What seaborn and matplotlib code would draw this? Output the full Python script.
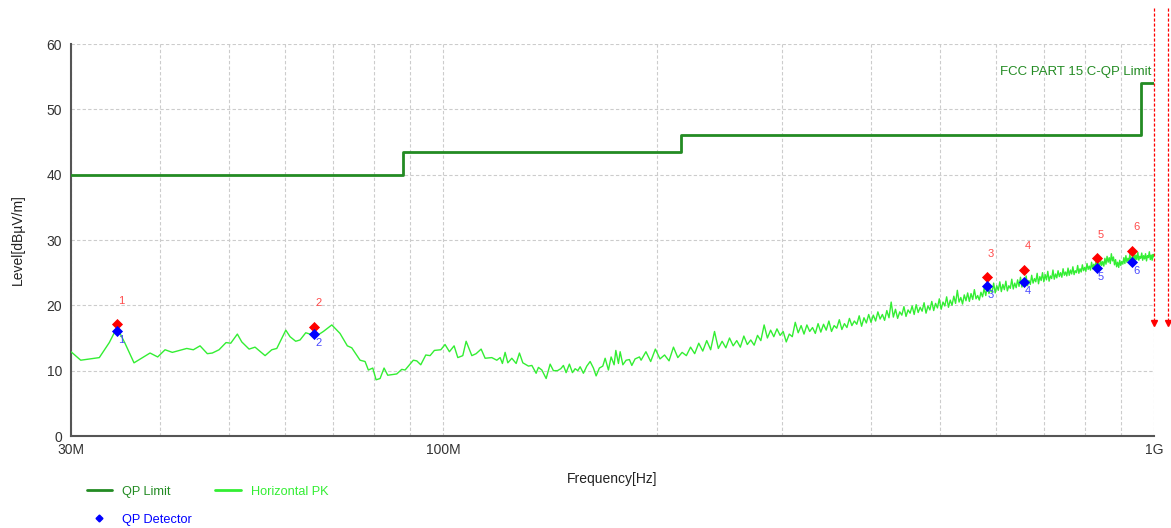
import numpy as np
import pandas as pd
import matplotlib
matplotlib.use("Agg")
import matplotlib.pyplot as plt
from matplotlib.lines import Line2D
from matplotlib.ticker import FixedLocator, NullFormatter, FixedFormatter
import seaborn as sns

# ---------------- data (frequency in MHz, level in dBuV/m) ----------------
limit_freq = [30, 88, 216, 960, 1000]
limit_level = [40.0, 43.5, 46.0, 54.0, 54.0]

pk_low_freq = [30.0, 30.96, 32.88, 33.96, 34.59, 35.16, 35.73, 36.79, 38.75, 39.72,
               40.68, 41.65, 43.64, 44.58, 45.56, 46.65, 47.41, 48.45, 49.56, 50.32,
               51.41, 52.15, 53.40, 54.44, 56.24, 57.47, 58.41, 60.14, 60.97, 62.10,
               62.98, 64.15, 65.04, 66.12, 66.82, 67.92, 69.80, 71.68, 73.40, 74.46,
               76.49, 77.74, 78.57, 79.70, 80.56, 81.61, 82.67, 83.66, 86.14, 87.54,
               88.49, 90.89, 91.90, 93.10, 94.63, 95.95, 97.30, 99.34, 100.72, 102.15,
               103.71, 104.96, 106.67, 107.83, 109.84, 111.37, 113.20, 114.67, 117.18, 119.09,
               120.38, 121.27, 122.34, 123.42, 125.02, 126.79, 128.14, 129.56, 131.94, 133.41,
               135.26, 136.27, 137.78, 139.72, 141.54, 143.05, 144.92, 146.50, 147.75, 149.05,
               150.64, 152.14, 153.47, 154.82, 155.97, 157.63, 159.38, 161.11, 162.83, 164.26,
               166.00, 167.85, 169.13, 170.93, 172.43, 174.11, 175.08, 176.57, 177.55, 179.12,
               181.02, 182.95, 184.39, 186.35, 189.0]
pk_low_level = [12.9, 11.6, 12.0, 14.3, 16.0, 15.7, 14.2, 11.2, 12.7, 12.1,
                13.2, 12.8, 13.4, 13.2, 13.8, 12.6, 12.7, 13.2, 14.3, 14.2,
                15.6, 14.4, 13.3, 13.6, 12.3, 13.2, 13.4, 16.2, 15.2, 14.5,
                14.7, 15.8, 15.6, 15.9, 15.5, 16.0, 17.0, 15.7, 13.8, 13.5,
                11.6, 11.4, 10.1, 10.4, 8.6, 8.8, 10.4, 9.3, 9.5, 10.2,
                10.1, 11.6, 11.5, 10.9, 12.4, 12.3, 13.1, 13.2, 14.0, 12.9,
                13.8, 12.0, 12.3, 14.5, 12.3, 12.6, 13.3, 11.9, 12.0, 11.6,
                12.0, 11.1, 12.8, 11.2, 11.9, 11.1, 12.7, 11.2, 10.7, 10.8,
                9.6, 10.5, 10.1, 8.8, 11.0, 10.0, 10.0, 10.3, 10.8, 9.7,
                11.0, 9.7, 10.3, 10.0, 10.6, 9.6, 10.7, 11.4, 10.4, 9.2,
                10.4, 10.7, 11.9, 10.1, 12.1, 10.9, 13.1, 11.1, 12.9, 10.9,
                11.6, 11.7, 10.8, 11.8, 12.1]

# dense part of the sweep: 190 MHz .. 1000 MHz, one reading every 3 MHz
pk_sweep_start, pk_sweep_stop, pk_sweep_step = 190, 1000, 3
pk_high_level = [
    11.6, 12.9, 11.4, 13.3, 11.8, 12.4, 11.5, 13.6, 12.0, 12.8,
    12.3, 13.6, 12.6, 14.2, 13.0, 14.6, 13.2, 16.0, 13.4, 14.5,
    13.5, 15.0, 13.8, 14.6, 13.6, 15.3, 14.0, 14.7, 13.9, 15.4,
    14.6, 17.0, 15.0, 16.2, 15.2, 16.4, 15.4, 16.0, 14.4, 15.6,
    15.2, 17.4, 15.8, 16.9, 15.6, 17.0, 16.0, 16.6, 15.7, 17.2,
    15.9, 17.1, 16.2, 17.6, 16.0, 16.9, 16.5, 17.8, 16.3, 17.2,
    16.6, 18.0, 16.9, 17.6, 17.1, 18.4, 16.8, 18.1, 17.3, 18.6,
    17.4, 18.5, 17.6, 19.0, 17.9, 18.6, 17.7, 19.2, 18.1, 20.5,
    18.2, 19.4, 18.0, 19.0, 18.5, 19.8, 18.3, 19.3, 18.8, 19.9,
    18.6, 20.1, 18.9, 19.7, 19.1, 20.4, 18.8, 19.9, 19.3, 20.6,
    19.2, 20.3, 19.6, 21.0, 19.4, 20.5, 19.9, 21.3, 19.7, 20.8,
    20.0, 21.4, 20.3, 22.3, 20.5, 21.2, 20.2, 21.6, 20.7, 21.9,
    20.6, 21.8, 20.9, 22.4, 21.0, 21.5, 20.8, 22.0, 21.3, 22.6,
    21.5, 22.9, 21.8, 22.4, 22.0, 23.4, 21.9, 23.0, 22.3, 23.6,
    22.1, 23.2, 22.4, 23.7, 22.2, 23.0, 22.6, 24.0, 22.5, 23.4,
    22.7, 23.9, 22.9, 24.3, 22.8, 23.6, 23.1, 24.5, 23.0, 23.8,
    23.2, 24.6, 23.4, 24.1, 23.6, 24.9, 23.3, 24.4, 23.8, 25.0,
    23.6, 24.7, 23.9, 25.2, 23.7, 24.5, 24.1, 25.4, 24.0, 24.8,
    24.2, 25.3, 24.4, 25.0, 24.3, 25.6, 24.6, 25.1, 24.5, 25.7,
    24.6, 25.4, 24.8, 25.9, 24.7, 25.3, 25.0, 26.1, 24.9, 25.6,
    25.1, 26.2, 25.3, 25.8, 25.2, 26.4, 25.5, 26.0, 25.4, 26.6,
    25.6, 26.3, 25.7, 26.8, 25.9, 26.5, 25.8, 27.0, 26.1, 26.7,
    26.0, 27.2, 26.3, 27.5, 26.6, 27.3, 26.4, 27.9, 26.8, 27.4,
    26.2, 27.0, 25.9, 26.6, 25.8, 26.9, 26.1, 26.7, 26.3, 27.3,
    26.4, 27.6, 26.6, 27.2, 26.8, 27.8, 26.5, 27.4, 26.9, 28.0,
    26.8, 27.7, 27.0, 28.1, 26.9, 27.5, 27.2, 28.0, 26.9, 27.6,
    27.1, 27.9, 26.8, 27.6, 27.3, 28.2, 27.0, 27.7, 26.9, 27.8,
    27.4,
]

peak_freq = [34.85, 65.9, 581.4, 655.5, 831.3, 932.2]
peak_level = [17.1, 16.7, 24.3, 25.4, 27.2, 28.3]
qp_level = [16.0, 15.6, 23.0, 23.5, 25.7, 26.6]
marker_ids = ["1", "2", "3", "4", "5", "6"]

x_major = [30, 100, 1000]
x_major_labels = ["30M", "100M", "1G"]
x_minor = [40, 50, 60, 70, 80, 90, 200, 300, 400, 500, 600, 700, 800, 900]
y_ticks = [0, 10, 20, 30, 40, 50, 60]
marker_line_freq = [1000, 1047]

limit_text = "FCC PART 15 C-QP Limit"

# ---------------- build tables ----------------
sweep_freq = np.arange(pk_sweep_start, pk_sweep_stop + 1, pk_sweep_step)
n = min(len(sweep_freq), len(pk_high_level))
pk_df = pd.DataFrame({
    "freq": list(pk_low_freq) + list(sweep_freq[:n]),
    "level": list(pk_low_level) + list(pk_high_level[:n]),
})
limit_df = pd.DataFrame({"freq": limit_freq, "level": limit_level})
mk_df = pd.DataFrame({"freq": peak_freq, "peak": peak_level, "qp": qp_level, "id": marker_ids})

# ---------------- style ----------------
sns.set_style("white")
plt.rcParams["font.family"] = ["Liberation Sans", "DejaVu Sans"]

C_LIMIT = "#238b23"
C_PK = "#33ee33"
C_RED = "#ff0000"
C_BLUE = "#0000ff"

fig = plt.figure(figsize=(11.71, 5.28), dpi=100)
ax = fig.add_axes([71 / 1171, 1 - 436 / 528, 1083 / 1171, 392 / 528])
ax.set_xscale("log")

sns.lineplot(data=limit_df, x="freq", y="level", ax=ax, color=C_LIMIT, lw=2,
             drawstyle="steps-post", estimator=None, sort=False, legend=False, zorder=3)
sns.lineplot(data=pk_df, x="freq", y="level", ax=ax, color=C_PK, lw=1,
             estimator=None, sort=False, legend=False, zorder=4)
sns.scatterplot(data=mk_df, x="freq", y="peak", ax=ax, marker="D", color=C_RED,
                s=32, linewidth=0, legend=False, zorder=5)
sns.scatterplot(data=mk_df, x="freq", y="qp", ax=ax, marker="D", color=C_BLUE,
                s=32, linewidth=0, legend=False, zorder=6)

for _, r in mk_df.iterrows():
    ax.annotate(r["id"], (r["freq"], r["peak"]), xytext=(3, 17), textcoords="offset points",
                ha="center", va="center", fontsize=8, color="#ff4a4a", zorder=7)
    ax.annotate(r["id"], (r["freq"], r["qp"]), xytext=(3, -6.5), textcoords="offset points",
                ha="center", va="center", fontsize=8, color="#4a4aff", zorder=7)

# limit name
ax.annotate(limit_text, (limit_freq[-1], limit_level[-1]), xytext=(-2, 4),
            textcoords="offset points", ha="right", va="bottom", fontsize=9.5, color=C_LIMIT)

# red dashed frequency markers with arrows
for f in marker_line_freq:
    ax.plot([f, f], [65.5, 17.8], ls=(0, (2.5, 1.5)), color=C_RED, lw=0.9,
            clip_on=False, zorder=8)
    ax.plot([f], [17.3], marker="v", color=C_RED, ms=4.5, clip_on=False, zorder=8)

# axes
ax.set_xlim(30, 1000)
ax.set_ylim(0, 60)
ax.xaxis.set_major_locator(FixedLocator(x_major))
ax.xaxis.set_major_formatter(FixedFormatter(x_major_labels))
ax.xaxis.set_minor_locator(FixedLocator(x_minor))
ax.xaxis.set_minor_formatter(NullFormatter())
ax.set_yticks(y_ticks)
ax.tick_params(axis="both", which="both", direction="inout", colors="black",
               labelcolor="#333333", labelsize=10)
ax.tick_params(axis="y", which="major", length=9, width=1.2, pad=2)
ax.tick_params(axis="x", which="major", length=7, width=1.2, pad=1.5)
ax.tick_params(axis="x", which="minor", length=6, width=1.0)
ax.grid(True, which="both", axis="x", color="#cccccc", ls=(0, (3, 2)), lw=0.8)
ax.grid(True, which="major", axis="y", color="#cccccc", ls=(0, (3, 2)), lw=0.8)
ax.set_axisbelow(True)
for s in ["top", "right"]:
    ax.spines[s].set_visible(False)
for s in ["left", "bottom"]:
    ax.spines[s].set_color("#555555")
    ax.spines[s].set_linewidth(1.5)

ax.set_xlabel("Frequency[Hz]", fontsize=10, color="#222222")
ax.xaxis.set_label_coords(0.5, -0.092)
ax.set_ylabel("Level[dBµV/m]", fontsize=10, color="#222222")
ax.yaxis.set_label_coords(-0.043, 0.5)

# legend
handles = [
    Line2D([], [], color=C_LIMIT, lw=2),
    Line2D([], [], color=C_BLUE, marker="D", ls="none", ms=3.5),
    Line2D([], [], color=C_PK, lw=2),
]
labels = ["QP Limit", "QP Detector", "Horizontal PK"]
leg = fig.legend(handles, labels, loc="upper left", bbox_to_anchor=(0.074, 0.080),
                 ncol=2, frameon=False, fontsize=9.2, borderpad=0, handlelength=2.0,
                 handletextpad=0.8, columnspacing=1.8, labelspacing=1.25,
                 borderaxespad=0)
for t, c in zip(leg.get_texts(), [C_LIMIT, C_BLUE, C_PK]):
    t.set_color(c)

fig.savefig("out.png", dpi=100)
